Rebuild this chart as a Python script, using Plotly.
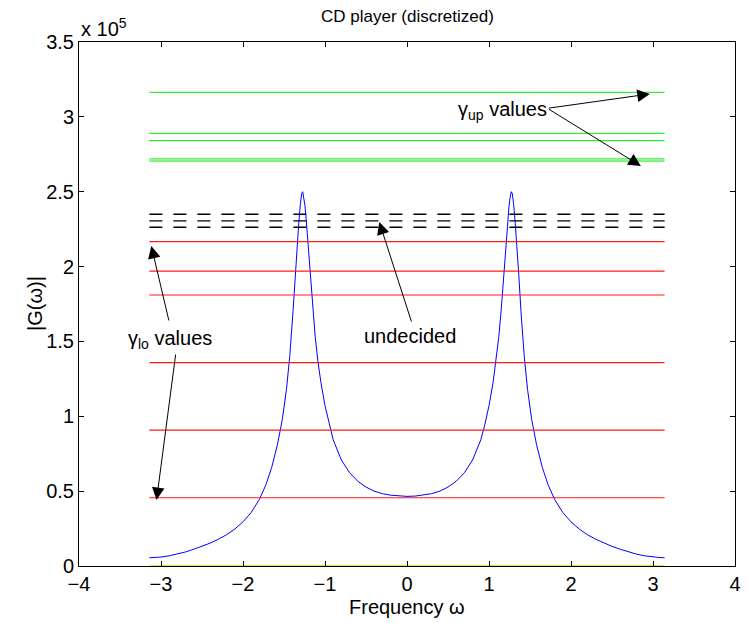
import plotly.graph_objects as go

# ---- data ----
omega_pos = [0.0, 0.1, 0.2, 0.3, 0.4, 0.5, 0.6, 0.7, 0.8, 0.9, 0.95, 1.0, 1.05, 1.088, 1.12, 1.15, 1.18,
             1.205, 1.23, 1.245, 1.26, 1.272, 1.285, 1.30, 1.32, 1.34, 1.365, 1.39, 1.43, 1.47, 1.52, 1.58,
             1.65, 1.72, 1.80, 1.90, 2.0, 2.1, 2.2, 2.3, 2.4, 2.5, 2.6, 2.7, 2.8, 2.9, 3.0, 3.07, 3.1416]
mag_pos_e5 = [0.465, 0.467, 0.473, 0.483, 0.500, 0.527, 0.566, 0.623, 0.708, 0.843, 0.946, 1.071, 1.226, 1.374,
              1.533, 1.718, 1.937, 2.15, 2.32, 2.41, 2.47, 2.50, 2.485, 2.42, 2.29, 2.15, 1.93, 1.70, 1.40,
              1.18, 0.98, 0.81, 0.659, 0.543, 0.445, 0.357, 0.295, 0.247, 0.209, 0.179, 0.153, 0.131, 0.112,
              0.094, 0.079, 0.068, 0.060, 0.057, 0.055]
# the response is symmetric about omega = 0
omega = [-w for w in reversed(omega_pos[1:])] + omega_pos
mag_e5 = list(reversed(mag_pos_e5[1:])) + mag_pos_e5

gamma_up = [3.164e5, 2.890e5, 2.841e5, 2.719e5, 2.705e5]
undecided = [2.349e5, 2.305e5, 2.263e5]
gamma_lo = [2.167e5, 1.969e5, 1.810e5, 1.358e5, 0.908e5, 0.456e5]
gamma_zero = [0.0]
omega_range = [-3.1416, 3.1416]

x_ticks = [-4, -3, -2, -1, 0, 1, 2, 3, 4]
y_ticks = [0, 0.5e5, 1e5, 1.5e5, 2e5, 2.5e5, 3e5, 3.5e5]
y_ticktext = ["0", "0.5", "1", "1.5", "2", "2.5", "3", "3.5"]

FONT = "Liberation Sans, Arial, Helvetica, sans-serif"
FS = 20

fig = go.Figure()

fig.add_trace(go.Scatter(x=omega, y=[m * 1e5 for m in mag_e5], mode="lines",
                         line=dict(color="#0000ff", width=1), hoverinfo="skip"))

for g in undecided:
    fig.add_trace(go.Scatter(x=omega_range, y=[g, g], mode="lines",
                             line=dict(color="#000000", width=1.4, dash="13px,11px"), hoverinfo="skip"))
for g in gamma_up:
    fig.add_trace(go.Scatter(x=omega_range, y=[g, g], mode="lines",
                             line=dict(color="#00ee00", width=1), hoverinfo="skip"))
for g in gamma_lo:
    fig.add_trace(go.Scatter(x=omega_range, y=[g, g], mode="lines",
                             line=dict(color="#ff1a1a", width=1.2), hoverinfo="skip"))
for g in gamma_zero:
    fig.add_trace(go.Scatter(x=omega_range, y=[g, g], mode="lines",
                             line=dict(color="#dddd00", width=1.5), hoverinfo="skip"))

def arrow(x0, y0, x1, y1):
    return dict(x=x1, y=y1, ax=x0, ay=y0, xref="x", yref="y", axref="x", ayref="y",
                text="", showarrow=True, arrowhead=2, arrowsize=2.5, arrowwidth=1,
                arrowcolor="black", standoff=0, startstandoff=0)

annotations = [
    arrow(1.712, 3.057e5, 2.961, 3.153e5),
    arrow(1.712, 3.057e5, 2.852, 2.672e5),
    arrow(0.060, 1.623e5, -0.338, 2.298e5),
    arrow(-2.90, 1.63e5, -3.118, 2.138e5),
    arrow(-2.819, 1.423e5, -3.054, 0.441e5),
    dict(x=1.16, y=3.04e5, xref="x", yref="y", text="γ<sub>up</sub> values", showarrow=False,
         font=dict(size=FS, family=FONT, color="black"), xanchor="center", yanchor="middle"),
    dict(x=0.036, y=1.536e5, xref="x", yref="y", text="undecided", showarrow=False,
         font=dict(size=FS, family=FONT, color="black"), xanchor="center", yanchor="middle"),
    dict(x=-2.89, y=1.51e5, xref="x", yref="y", text="γ<sub>lo</sub> values", showarrow=False,
         font=dict(size=FS, family=FONT, color="black"), xanchor="center", yanchor="middle"),
    dict(x=0.5, y=1, xref="paper", yref="paper", text="CD player (discretized)", showarrow=False,
         font=dict(size=17, family=FONT, color="black"), xanchor="center", yanchor="bottom", yshift=14),
    dict(x=0, y=1, xref="paper", yref="paper", text="x 10<sup>5</sup>", showarrow=False,
         font=dict(size=FS, family=FONT, color="black"), xanchor="left", yanchor="bottom", yshift=0),
    dict(x=0.5, y=0, xref="paper", yref="paper", text="Frequency ω", showarrow=False,
         font=dict(size=FS, family=FONT, color="black"), xanchor="center", yanchor="middle", yshift=-41),
    dict(x=0, y=0.5, xref="paper", yref="paper", text="|G(ω)|", showarrow=False, textangle=-90,
         font=dict(size=FS, family=FONT, color="black"), xanchor="center", yanchor="middle", xshift=-44),
]

# the page body adds an 8px offset, so the figure is 8px smaller and margins shifted
fig.update_layout(
    width=741, height=615,
    margin=dict(l=71, r=8, t=34, b=57),
    paper_bgcolor="white", plot_bgcolor="white",
    showlegend=False,
    font=dict(family=FONT, size=FS, color="black"),
    annotations=annotations,
    xaxis=dict(range=[-4, 4], tickvals=x_ticks, ticktext=[str(t).replace("-", "\u2212") for t in x_ticks],
               showgrid=False, zeroline=False, showline=True, linecolor="black", linewidth=1,
               mirror="ticks", ticks="inside", ticklen=5, tickcolor="black",
               tickfont=dict(size=FS, family=FONT)),
    yaxis=dict(range=[0, 3.5e5], tickvals=y_ticks, ticktext=y_ticktext,
               showgrid=False, zeroline=False, showline=True, linecolor="black", linewidth=1,
               mirror="ticks", ticks="inside", ticklen=5, tickcolor="black",
               tickfont=dict(size=FS, family=FONT)),
)

fig.write_html("out.html")
